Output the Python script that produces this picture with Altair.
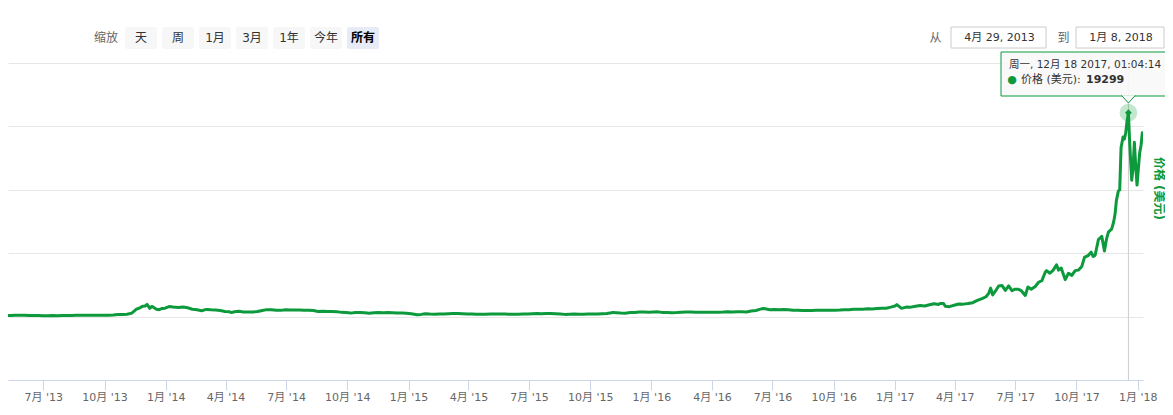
import json
import altair as alt
import pandas as pd

# ---------------- data ----------------
dates = [
    "2013-04-29", "2013-05-06", "2013-05-13", "2013-05-20", "2013-05-27", "2013-06-03", "2013-06-10",
    "2013-06-17", "2013-06-24", "2013-07-01", "2013-07-08", "2013-07-15", "2013-07-22", "2013-07-29",
    "2013-08-05", "2013-08-12", "2013-08-19", "2013-08-26", "2013-09-02", "2013-09-09", "2013-09-16",
    "2013-09-23", "2013-09-30", "2013-10-07", "2013-10-14", "2013-10-21", "2013-10-28", "2013-11-04",
    "2013-11-11", "2013-11-18", "2013-11-22", "2013-11-27", "2013-12-01", "2013-12-04", "2013-12-08",
    "2013-12-11", "2013-12-14", "2013-12-18", "2013-12-22", "2013-12-26", "2013-12-31",
    "2014-01-06", "2014-01-12", "2014-01-20", "2014-01-27", "2014-02-03", "2014-02-10", "2014-02-17",
    "2014-02-24", "2014-03-03", "2014-03-10", "2014-03-17", "2014-03-24", "2014-03-31", "2014-04-07",
    "2014-04-10", "2014-04-14", "2014-04-21", "2014-04-28", "2014-05-05", "2014-05-12", "2014-05-19",
    "2014-05-26", "2014-06-02", "2014-06-09", "2014-06-16", "2014-06-23", "2014-06-30", "2014-07-07",
    "2014-07-14", "2014-07-21", "2014-07-28", "2014-08-04", "2014-08-11", "2014-08-18", "2014-08-25",
    "2014-09-01", "2014-09-08", "2014-09-15", "2014-09-22", "2014-09-29", "2014-10-06", "2014-10-13",
    "2014-10-20", "2014-10-27", "2014-11-03", "2014-11-10", "2014-11-17", "2014-11-24", "2014-12-01",
    "2014-12-08", "2014-12-15", "2014-12-22", "2014-12-29",
    "2015-01-05", "2015-01-14", "2015-01-20", "2015-01-26", "2015-02-02", "2015-02-09", "2015-02-16",
    "2015-02-23", "2015-03-02", "2015-03-09", "2015-03-16", "2015-03-23", "2015-03-30", "2015-04-06",
    "2015-04-13", "2015-04-20", "2015-04-27", "2015-05-04", "2015-05-11", "2015-05-18", "2015-05-25",
    "2015-06-01", "2015-06-08", "2015-06-15", "2015-06-22", "2015-06-29", "2015-07-06", "2015-07-13",
    "2015-07-20", "2015-07-27", "2015-08-03", "2015-08-10", "2015-08-17", "2015-08-24", "2015-08-31",
    "2015-09-07", "2015-09-14", "2015-09-21", "2015-09-28", "2015-10-05", "2015-10-12", "2015-10-19",
    "2015-10-26", "2015-11-02", "2015-11-04", "2015-11-09", "2015-11-16", "2015-11-23", "2015-11-30",
    "2015-12-07", "2015-12-14", "2015-12-21", "2015-12-28",
    "2016-01-04", "2016-01-11", "2016-01-18", "2016-01-25", "2016-02-01", "2016-02-08", "2016-02-15",
    "2016-02-22", "2016-02-29", "2016-03-07", "2016-03-14", "2016-03-21", "2016-03-28", "2016-04-04",
    "2016-04-11", "2016-04-18", "2016-04-25", "2016-05-02", "2016-05-09", "2016-05-16", "2016-05-23",
    "2016-05-30", "2016-06-06", "2016-06-13", "2016-06-17", "2016-06-20", "2016-06-27", "2016-07-04",
    "2016-07-11", "2016-07-18", "2016-07-25", "2016-08-01", "2016-08-08", "2016-08-15", "2016-08-22",
    "2016-08-29", "2016-09-05", "2016-09-12", "2016-09-19", "2016-09-26", "2016-10-03", "2016-10-10",
    "2016-10-17", "2016-10-24", "2016-10-31", "2016-11-07", "2016-11-14", "2016-11-21", "2016-11-28",
    "2016-12-05", "2016-12-12", "2016-12-19", "2016-12-26",
    "2017-01-01", "2017-01-04", "2017-01-11", "2017-01-18", "2017-01-25", "2017-02-01", "2017-02-08",
    "2017-02-15", "2017-02-22", "2017-03-01", "2017-03-08", "2017-03-10", "2017-03-15", "2017-03-18",
    "2017-03-24", "2017-03-31", "2017-04-07", "2017-04-14", "2017-04-21", "2017-04-28", "2017-05-05",
    "2017-05-12", "2017-05-18", "2017-05-22", "2017-05-25", "2017-05-28", "2017-06-01", "2017-06-06",
    "2017-06-11", "2017-06-16", "2017-06-21", "2017-06-26", "2017-06-30", "2017-07-05", "2017-07-10",
    "2017-07-16", "2017-07-20", "2017-07-25", "2017-07-31", "2017-08-05", "2017-08-10", "2017-08-15",
    "2017-08-17", "2017-08-22", "2017-08-27", "2017-09-01", "2017-09-04", "2017-09-08", "2017-09-14",
    "2017-09-19", "2017-09-24", "2017-09-29", "2017-10-04", "2017-10-09", "2017-10-13", "2017-10-19",
    "2017-10-23", "2017-10-26", "2017-10-29", "2017-11-03", "2017-11-08", "2017-11-12", "2017-11-15",
    "2017-11-18", "2017-11-23", "2017-11-26", "2017-11-28", "2017-11-30", "2017-12-03", "2017-12-05",
    "2017-12-07", "2017-12-10", "2017-12-12", "2017-12-14", "2017-12-16", "2017-12-18T01:04:14Z",
    "2017-12-20", "2017-12-23", "2017-12-25", "2017-12-27", "2017-12-29", "2017-12-31",
    "2018-01-02", "2018-01-04", "2018-01-06", "2018-01-08",
]
prices = [
    144, 112, 115, 122, 130, 122, 101,
    100, 103, 88, 76, 98, 92, 99,
    106, 106, 120, 122, 135, 125, 130,
    134, 133, 125, 142, 190, 197, 225,
    330, 700, 790, 970, 1000, 1150, 780,
    960, 870, 700, 650, 760, 800,
    950, 900, 870, 900, 840, 700, 640,
    560, 680, 640, 620, 580, 480, 450,
    380, 460, 500, 440, 430, 440, 480,
    580, 660, 650, 600, 590, 640, 630,
    620, 620, 590, 590, 570, 490, 510,
    480, 475, 470, 400, 385, 330, 395,
    385, 355, 325, 365, 385, 375, 380,
    360, 345, 330, 315,
    275, 180, 210, 270, 240, 220, 235,
    240, 275, 290, 285, 265, 245, 255,
    225, 225, 230, 240, 240, 235, 238,
    222, 228, 234, 245, 255, 270, 290,
    278, 292, 282, 265, 255, 210, 230,
    240, 230, 230, 238, 240, 245, 265,
    285, 360, 400, 370, 330, 325, 378,
    395, 445, 440, 422,
    432, 448, 385, 392, 372, 378, 405,
    438, 437, 414, 415, 412, 423, 420,
    422, 429, 463, 446, 460, 454, 444,
    528, 583, 705, 760, 735, 650, 670,
    650, 673, 655, 608, 590, 567, 586,
    574, 607, 608, 610, 605, 610, 616,
    638, 653, 700, 703, 705, 737, 729,
    757, 780, 790, 897,
    998, 1130, 780, 900, 895, 985, 1060,
    1010, 1120, 1220, 1150, 1250, 1250, 970,
    940, 1070, 1190, 1180, 1240, 1320, 1530,
    1700, 1880, 2200, 2700, 2050, 2400, 2900,
    2950, 2480, 2900, 2450, 2580, 2600, 2450,
    2000, 2800, 2600, 2850, 3250, 3400, 4200,
    4350, 4100, 4400, 4900, 4400, 4600, 3500,
    4100, 3900, 4350, 4400, 4750, 5600, 5800,
    6100, 5700, 5800, 7300, 7600, 6200, 7300,
    8000, 8300, 9000, 9700, 11000, 11900, 12000,
    16000, 17000, 16800, 17400, 18500, 19299,
    16400, 12900, 14000, 16500, 14300, 12450,
    14000, 15500, 16200, 17400,
]

series_name = "价格 (美元)"
peak_date = "2017-12-18T01:04:14Z"
peak_price = 19299
tooltip_title = "周一, 12月 18 2017, 01:04:14"

tick_dates = [
    "2013-07-01", "2013-10-01", "2014-01-01", "2014-04-01", "2014-07-01", "2014-10-01",
    "2015-01-01", "2015-04-01", "2015-07-01", "2015-10-01", "2016-01-01", "2016-04-01",
    "2016-07-01", "2016-10-01", "2017-01-01", "2017-04-01", "2017-07-01", "2017-10-01",
    "2018-01-01",
]
tick_labels = [
    "7月 '13", "10月 '13", "1月 '14", "4月 '14", "7月 '14", "10月 '14",
    "1月 '15", "4月 '15", "7月 '15", "10月 '15", "1月 '16", "4月 '16",
    "7月 '16", "10月 '16", "1月 '17", "4月 '17", "7月 '17", "10月 '17",
    "1月 '18",
]
grid_values = [0, 6000, 12000, 18000, 24000]

zoom_title = "缩放"
zoom_labels = ["天", "周", "1月", "3月", "1年", "今年", "所有"]
selected_zoom = "所有"
from_label = "从"
to_label = "到"
range_from = "4月 29, 2013"
range_to = "1月 8, 2018"

# ---------------- styling ----------------
GREEN = "#0c9a3c"
FONT = "'DejaVu Sans', 'Noto Sans CJK SC', sans-serif"
W, H = 1135, 317

df = pd.DataFrame({"date": dates, "price": prices})
peak_df = pd.DataFrame({"date": [peak_date], "price": [peak_price]})

tick_ms = [int(pd.Timestamp(d, tz="UTC").timestamp() * 1000) for d in tick_dates]
label_expr = (
    f"{json.dumps(tick_labels, ensure_ascii=False)}"
    f"[indexof({json.dumps(tick_ms)}, toNumber(datum.value))]"
)

xscale = alt.Scale(type="utc", domain=[
    int(pd.Timestamp("2013-05-08T22:00:00", tz="UTC").timestamp() * 1000),
    int(pd.Timestamp("2018-01-08T23:30:00", tz="UTC").timestamp() * 1000),
])
xaxis = alt.Axis(
    values=tick_ms, labelExpr=label_expr, title=None, grid=False,
    domainColor="#ccd6eb", tickColor="#ccd6eb", tickSize=10, labelPadding=1,
    labelColor="#666666", labelFontSize=11, labelFont=FONT, labelOverlap=False,
    labelFlush=False, labelBound=False, labelBaseline="top",
)
yscale = alt.Scale(domain=[-6000, 24000], nice=False, zero=False)
yaxis = alt.Axis(
    orient="right", values=grid_values, labels=False, ticks=False, domain=False,
    grid=True, gridColor="#e6e6e6", gridWidth=1,
    title=series_name, titleAngle=90, titleColor=GREEN, titleFontSize=12,
    titleFontWeight="bold", titleFont=FONT, titleX=15, titleY=125,
    titleAlign="center", titleBaseline="middle",
)
x_enc = alt.X("date:T", scale=xscale, axis=xaxis)
y_enc = alt.Y("price:Q", scale=yscale, axis=yaxis)

layers = []

# crosshair
layers.append(
    alt.Chart(peak_df).mark_rule(color="#cccccc", strokeWidth=1).encode(
        x=x_enc, y=alt.value(0), y2=alt.value(H)
    )
)
# main line
layers.append(
    alt.Chart(df).mark_line(color=GREEN, strokeWidth=3, clip=True,
                            strokeJoin="round", strokeCap="round").encode(x=x_enc, y=y_enc)
)
# halo + marker
layers.append(
    alt.Chart(peak_df).mark_circle(size=314, color=GREEN, opacity=0.25).encode(x=x_enc, y=y_enc)
)
layers.append(
    alt.Chart(peak_df).mark_point(shape="diamond", size=45, filled=True, color=GREEN, opacity=1).encode(
        x=x_enc, y=y_enc
    )
)

def one(v="x"):
    return alt.Data(values=[{"k": v}])

# tooltip box
layers.append(
    alt.Chart(one()).mark_rect(fill="#f9f9f9", fillOpacity=0.92, stroke=GREEN, strokeWidth=1).encode(
        x=alt.value(993), x2=alt.value(1180), y=alt.value(-11), y2=alt.value(33)
    )
)
# tooltip notch
layers.append(
    alt.Chart(peak_df).mark_point(shape="M-1,-1.1L0,0L1,-1.1", size=196, filled=True,
                                  fill="#f9f9f9", stroke=GREEN, strokeWidth=1,
                                  fillOpacity=1, strokeOpacity=1).encode(
        x=x_enc, y=alt.value(40)
    )
)
layers.append(
    alt.Chart(one()).mark_text(align="left", baseline="middle", font=FONT, fontSize=10.5,
                               color="#333333").encode(
        x=alt.value(1001), y=alt.value(2), text=alt.value(tooltip_title)
    )
)
layers.append(
    alt.Chart(one()).mark_text(align="center", baseline="middle", font=FONT, fontSize=11,
                               color=GREEN).encode(
        x=alt.value(1004), y=alt.value(17), text=alt.value("●")
    )
)
layers.append(
    alt.Chart(one()).mark_text(align="left", baseline="middle", font=FONT, fontSize=11,
                               color="#333333").encode(
        x=alt.value(1013), y=alt.value(17), text=alt.value(series_name + ": ")
    )
)
layers.append(
    alt.Chart(one()).mark_text(align="left", baseline="middle", font=FONT, fontSize=11,
                               fontWeight="bold", color="#333333").encode(
        x=alt.value(1078), y=alt.value(17), text=alt.value(str(peak_price))
    )
)

# range selector
layers.append(
    alt.Chart(one()).mark_text(align="center", baseline="middle", font=FONT, fontSize=12,
                               color="#666666").encode(
        x=alt.value(98), y=alt.value(-25), text=alt.value(zoom_title)
    )
)
for i, lab in enumerate(zoom_labels):
    sel = lab == selected_zoom
    x0 = 117 + 37 * i
    layers.append(
        alt.Chart(one()).mark_rect(fill="#e6ebf5" if sel else "#f7f7f7", cornerRadius=2).encode(
            x=alt.value(x0), x2=alt.value(x0 + 32), y=alt.value(-36), y2=alt.value(-14)
        )
    )
    layers.append(
        alt.Chart(one()).mark_text(align="center", baseline="middle", font=FONT, fontSize=12,
                                   fontWeight="bold" if sel else "normal",
                                   color="#000000" if sel else "#333333").encode(
            x=alt.value(x0 + 16), y=alt.value(-25), text=alt.value(lab)
        )
    )

# date inputs
for lab, cx in [(from_label, 927.5), (to_label, 1055.5)]:
    layers.append(
        alt.Chart(one()).mark_text(align="center", baseline="middle", font=FONT, fontSize=12,
                                   color="#666666").encode(
            x=alt.value(cx), y=alt.value(-25), text=alt.value(lab)
        )
    )
for txt, x0, x1 in [(range_from, 943, 1038), (range_to, 1068, 1156)]:
    layers.append(
        alt.Chart(one()).mark_rect(fill="#ffffff", stroke="#cccccc", strokeWidth=1).encode(
            x=alt.value(x0), x2=alt.value(x1), y=alt.value(-36), y2=alt.value(-15)
        )
    )
    layers.append(
        alt.Chart(one()).mark_text(align="center", baseline="middle", font=FONT, fontSize=11,
                                   color="#333333").encode(
            x=alt.value((x0 + x1) / 2 + 1), y=alt.value(-25), text=alt.value(txt)
        )
    )

chart = alt.layer(*layers).properties(
    width=W, height=H,
    padding={"left": 0, "top": 55, "right": 22, "bottom": 27},
    autosize=alt.AutoSizeParams(type="none"),
    background="#ffffff",
).configure_view(strokeWidth=0)

chart.save("out.html", embed_options={"renderer": "svg", "actions": False})
